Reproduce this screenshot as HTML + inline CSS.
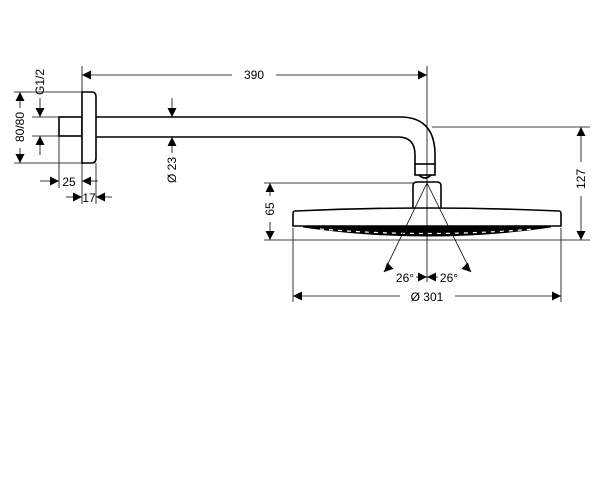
<!DOCTYPE html>
<html><head><meta charset="utf-8"><style>
html,body{margin:0;padding:0;background:#fff;}
svg{display:block;}
text{font-family:"Liberation Sans",sans-serif;font-size:12px;fill:#000;}
</style></head><body>
<svg width="600" height="500" viewBox="0 0 600 500" xmlns="http://www.w3.org/2000/svg">
<defs>
<marker id="a" viewBox="0 0 10 10" refX="10" refY="5" markerWidth="9" markerHeight="9" orient="auto-start-reverse" markerUnits="userSpaceOnUse"><path d="M0,0 L10,5 L0,10 z" fill="#000"/></marker>
</defs>
<g stroke="#000" fill="#fff" stroke-width="1.6">
<rect x="59" y="117" width="23" height="19"/>
<path d="M82,92 H92 Q96,92 96,97 V158 Q96,163 92,163 H82 Z"/>
<path d="M96,117 H400 Q435,117 435,155 V164 M96,137 H398 Q415,137 415,155 V164" fill="none"/>
<rect x="415" y="164" width="20" height="11"/>
<path d="M419,175 Q425,181 431,175" fill="none"/>
<path d="M413,210 V186 Q413,182 417,182 H437 Q441,182 441,186 V210"/>
<path d="M295,211 Q427,205 559,211 Q561,211 561,214 V226 H293 V214 Q293,211 295,211 Z"/>
<path d="M303,227 Q427,245 551,227 Z" fill="#000" stroke-width="1"/>
</g>
<g stroke="#fff" stroke-width="1.2" stroke-dasharray="4,5">
<path d="M320,229 Q427,238 534,229" fill="none"/>
</g>
<g stroke="#000" fill="none" stroke-width="0.8">
<line x1="82" y1="66" x2="82" y2="204"/>
<line x1="96" y1="163" x2="96" y2="204"/>
<line x1="59" y1="136" x2="59" y2="188"/>
<line x1="14" y1="92" x2="82" y2="92"/>
<line x1="14" y1="163" x2="82" y2="163"/>
<line x1="32" y1="117" x2="59" y2="117"/>
<line x1="32" y1="136" x2="59" y2="136"/>
<line x1="427" y1="66" x2="427" y2="282"/>
<line x1="432" y1="127" x2="590" y2="127"/>
<line x1="264" y1="183" x2="415" y2="183"/>
<line x1="264" y1="240" x2="590" y2="240"/>
<line x1="293" y1="228" x2="293" y2="302"/>
<line x1="561" y1="228" x2="561" y2="302"/>
<line x1="82" y1="75" x2="232" y2="75" marker-start="url(#a)"/>
<line x1="276" y1="75" x2="427" y2="75" marker-end="url(#a)"/>
<line x1="20" y1="92" x2="20" y2="108" marker-start="url(#a)"/>
<line x1="20" y1="148" x2="20" y2="163" marker-end="url(#a)"/>
<line x1="40" y1="98" x2="40" y2="117" marker-end="url(#a)"/>
<line x1="40" y1="155" x2="40" y2="136" marker-end="url(#a)"/>
<line x1="172" y1="98" x2="172" y2="117" marker-end="url(#a)"/>
<line x1="172" y1="153" x2="172" y2="137" marker-end="url(#a)"/>
<line x1="40" y1="181" x2="59" y2="181" marker-end="url(#a)"/>
<line x1="98" y1="181" x2="82" y2="181" marker-end="url(#a)"/>
<line x1="66" y1="197" x2="82" y2="197" marker-end="url(#a)"/>
<line x1="112" y1="197" x2="96" y2="197" marker-end="url(#a)"/>
<line x1="581" y1="127" x2="581" y2="162" marker-start="url(#a)"/>
<line x1="581" y1="196" x2="581" y2="240" marker-end="url(#a)"/>
<line x1="270" y1="183" x2="270" y2="196" marker-start="url(#a)"/>
<line x1="270" y1="222" x2="270" y2="240" marker-end="url(#a)"/>
<line x1="293" y1="296" x2="400" y2="296" marker-start="url(#a)"/>
<line x1="455" y1="296" x2="561" y2="296" marker-end="url(#a)"/>
<line x1="427" y1="183" x2="384" y2="272"/>
<line x1="427" y1="183" x2="471" y2="272"/>
<line x1="384" y1="272" x2="386" y2="270" marker-start="url(#a)"/>
<line x1="471" y1="272" x2="469" y2="270" marker-start="url(#a)"/>
<line x1="416" y1="277" x2="427" y2="277" marker-end="url(#a)"/>
<line x1="438" y1="277" x2="427" y2="277" marker-end="url(#a)"/>
</g>
<text x="254" y="79" text-anchor="middle">390</text>
<text transform="translate(24,127) rotate(-90)" text-anchor="middle">80/80</text>
<text transform="translate(44,82) rotate(-90)" text-anchor="middle">G1/2</text>
<text transform="translate(176,170) rotate(-90)" text-anchor="middle">Ø 23</text>
<text x="69" y="186" text-anchor="middle">25</text>
<text x="89" y="202" text-anchor="middle">17</text>
<text transform="translate(585,179) rotate(-90)" text-anchor="middle">127</text>
<text transform="translate(274,209) rotate(-90)" text-anchor="middle">65</text>
<text x="405" y="282" text-anchor="middle">26°</text>
<text x="449" y="282" text-anchor="middle">26°</text>
<text x="427" y="301" text-anchor="middle">Ø 301</text>
</svg>
</body></html>
